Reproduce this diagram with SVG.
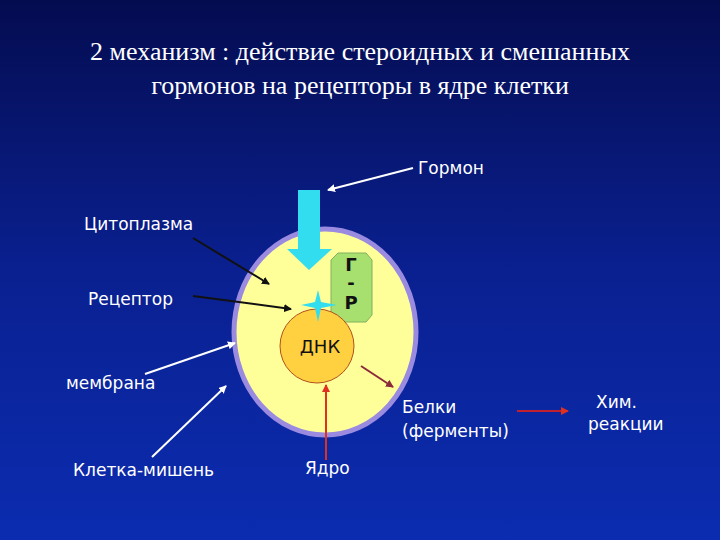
<svg xmlns="http://www.w3.org/2000/svg" width="720" height="540" viewBox="0 0 720 540">
<defs>
<linearGradient id="bg" x1="0" y1="0" x2="0" y2="1"><stop offset="0" stop-color="#040c50"/><stop offset="0.5" stop-color="#0a2090"/><stop offset="1" stop-color="#0b2cb0"/></linearGradient>
<marker id="mw" markerWidth="8" markerHeight="8" refX="7" refY="4" orient="auto" markerUnits="userSpaceOnUse"><path d="M0,0 L8,4 L0,8 Z" fill="#fff"/></marker>
<marker id="mk" markerWidth="8" markerHeight="8" refX="7" refY="4" orient="auto" markerUnits="userSpaceOnUse"><path d="M0,0 L8,4 L0,8 Z" fill="#111"/></marker>
<marker id="mr" markerWidth="8" markerHeight="8" refX="7" refY="4" orient="auto" markerUnits="userSpaceOnUse"><path d="M0,0 L8,4 L0,8 Z" fill="#e03020"/></marker>
<marker id="mb" markerWidth="8" markerHeight="8" refX="7" refY="4" orient="auto" markerUnits="userSpaceOnUse"><path d="M0,0 L8,4 L0,8 Z" fill="#8a2a3a"/></marker>
</defs>
<style>
.t{font-family:"Liberation Serif",serif;font-size:26px;fill:#fff;text-anchor:middle}
.w{font-family:"DejaVu Sans",sans-serif;font-size:17px;fill:#fff}
.k{font-family:"DejaVu Sans",sans-serif;font-size:18px;fill:#111}
</style>
<rect width="720" height="540" fill="url(#bg)"/>
<text class="t" x="360" y="60">2 механизм : действие стероидных и смешанных</text>
<text class="t" x="360" y="94">гормонов на рецепторы в ядре клетки</text>
<g id="cell"><ellipse cx="325" cy="332" rx="91" ry="103" fill="#ffff99" stroke="#9a8ae0" stroke-width="5"/></g>
<g id="hormoneArrow"><path d="M298,190 H320 V249 H332 L309,270 L287,249 H298 Z" fill="#33ddf0"/></g>
<g id="gr"><path d="M338,253 H366 L372,260 V315 L366,322 H338 L331,315 V260 Z" fill="#a8e070" stroke="#80b060"/>
<text class="k" text-anchor="middle" font-weight="bold" font-size="16"><tspan x="351" y="271">Г</tspan><tspan x="351" y="289">-</tspan><tspan x="351" y="309">Р</tspan></text></g>
<g id="dnk"><circle cx="317" cy="346" r="37" fill="#ffd040" stroke="#b05020"/>
<text class="k" x="320" y="353" text-anchor="middle">ДНК</text></g>
<g id="receptor"><path d="M318,290 L321,302 L337,305 L321,308 L318,322 L315,308 L301,305 L315,302 Z" fill="#33ddf0"/></g>
<g id="labels">
<text class="w" x="418" y="174">Гормон</text>
<text class="w" x="84" y="230">Цитоплазма</text>
<text class="w" x="88" y="305">Рецептор</text>
<text class="w" x="66" y="389">мембрана</text>
<text class="w" x="73" y="476" font-size="19">Клетка-мишень</text>
<text class="w" x="305" y="474">Ядро</text>
<text class="w" x="402" y="413">Белки</text>
<text class="w" x="402" y="437">(ферменты)</text>
<text class="w" x="596" y="408">Хим.</text>
<text class="w" x="588" y="430">реакции</text>
</g>
<g id="connectors" fill="none" stroke-width="2">
<line x1="413" y1="168" x2="328" y2="190" stroke="#fff" marker-end="url(#mw)"/>
<line x1="193" y1="238" x2="269" y2="284" stroke="#111" marker-end="url(#mk)"/>
<line x1="193" y1="296" x2="291" y2="309" stroke="#111" marker-end="url(#mk)"/>
<line x1="145" y1="374" x2="235" y2="343" stroke="#fff" marker-end="url(#mw)"/>
<line x1="152" y1="457" x2="226" y2="386" stroke="#fff" marker-end="url(#mw)"/>
<line x1="326" y1="460" x2="326" y2="385" stroke="#e03020" marker-end="url(#mr)"/>
<line x1="361" y1="366" x2="393" y2="387" stroke="#8a2a3a" marker-end="url(#mb)"/>
<line x1="517" y1="411" x2="568" y2="411" stroke="#c02030" marker-end="url(#mr)"/>
</g>
</svg>
